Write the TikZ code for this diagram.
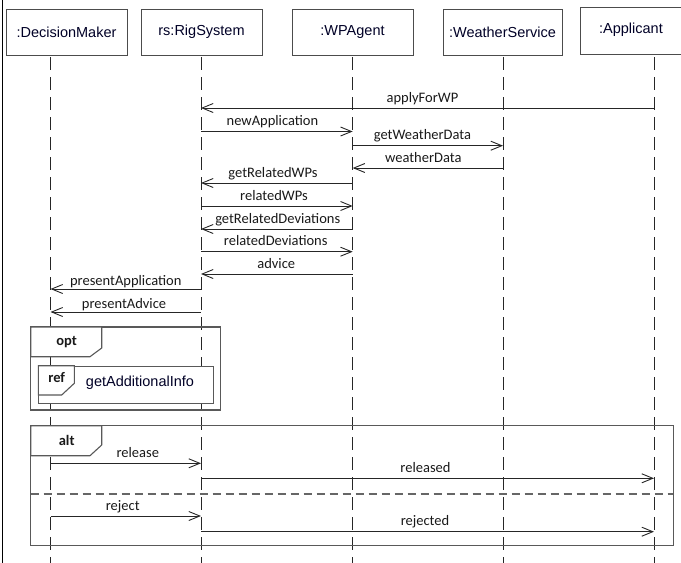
\documentclass[tikz,border=0pt]{standalone}
\usepackage{fontspec}
\setmainfont{Liberation Sans}
\newfontfamily\calibrifont{Carlito}
\usetikzlibrary{arrows.meta}

\begin{document}
\begin{tikzpicture}[x=1pt,y=-1pt,
  headbox/.style={draw=black!70, line width=1pt, minimum height=46pt, inner sep=0pt,
    font=\fontsize{14.5}{16}\selectfont, text=black!85!blue},
  headtext/.style={inner sep=0pt, font=\fontsize{14.5}{16}\selectfont, text=black!85!blue},
  lifeline/.style={draw=black!85, line width=0.9pt, dash pattern=on 13pt off 7pt},
  msg/.style={draw=black!85, line width=0.9pt,
    -{Straight Barb[length=11pt,width=9pt,line width=0.9pt]}},
  lbl/.style={font=\calibrifont\fontsize{14.5}{16}\selectfont, anchor=base, yshift=6pt,
    inner sep=0pt, text=black!90},
  fragment/.style={draw=black!65, line width=1.1pt},
  fragtab/.style={draw=black!65, line width=1.1pt, fill=white},
  fragname/.style={font=\calibrifont\bfseries\fontsize{14.5}{16}\selectfont, inner sep=0pt, text=black!90},
  separator/.style={draw=black!60, line width=1.2pt, dash pattern=on 8pt off 5pt}
]
\useasboundingbox (0,0) rectangle (681,563);

% page edge on the left
\draw[line width=1.5pt] (2.5,0) -- (2.5,563);

% participants
\node[headbox, minimum width=121pt] (dm) at (66.5,32) {:DecisionMaker};
\node[headbox, minimum width=121pt] (rs) at (201.5,32) {rs:RigSystem};
\node[headbox, minimum width=121pt] (wp) at (352.5,32) {:WPAgent};
\node[headbox, minimum width=119pt] (ws) at (502.5,32) {:WeatherService};
\node[headbox, minimum width=121pt, minimum height=47pt] (ap) at (640.5,30.5) {};
\node[headtext] (aptext) at (631,30) {:Applicant};

% lifeline tops and bottoms
\coordinate (dmL) at (50.5,57);  \coordinate (dmE) at (50.5,563);
\coordinate (rsL) at (201,57);   \coordinate (rsE) at (201,563);
\coordinate (wpL) at (352.7,57); \coordinate (wpE) at (352.7,563);
\coordinate (wsL) at (503,57);   \coordinate (wsE) at (503,563);
\coordinate (apL) at (654,57);   \coordinate (apE) at (654,563);

\foreach \p in {dm,rs,wp,ws,ap}
  \draw[lifeline] (\p L) -- (\p E);

% message rows
\coordinate (t1) at (0,108);
\coordinate (t2) at (0,131.5);
\coordinate (t3) at (0,145.7);
\coordinate (t4) at (0,168);
\coordinate (t5) at (0,183);
\coordinate (t6) at (0,206);
\coordinate (t7) at (0,229);
\coordinate (t8) at (0,251.7);
\coordinate (t9) at (0,274);
\coordinate (t10) at (0,289);
\coordinate (t11) at (0,312);
\coordinate (t12) at (0,463.3);
\coordinate (t13) at (0,478.3);
\coordinate (t14) at (0,516);
\coordinate (t15) at (0,531.7);

\draw[msg] (apL |- t1) -- node[lbl, xshift=-5pt] {applyForWP} (rsL |- t1);
\draw[msg] (rsL |- t2) -- node[lbl, xshift=-4.4pt] {newApplication} (wpL |- t2);
\draw[msg] (wpL |- t3) -- node[lbl, xshift=-5.4pt] {getWeatherData} (wsL |- t3);
\draw[msg] (wsL |- t4) -- node[lbl, xshift=-4.6pt] {weatherData} (wpL |- t4);
\draw[msg] (wpL |- t5) -- node[lbl, xshift=-3.9pt] {getRelatedWPs} (rsL |- t5);
\draw[msg] (rsL |- t6) -- node[lbl, xshift=-2.9pt] {relatedWPs} (wpL |- t6);
\draw[msg] (wpL |- t7) -- node[lbl, xshift=0.9pt] {getRelatedDeviations} (rsL |- t7);
\draw[msg] (rsL |- t8) -- node[lbl, xshift=-1.1pt] {relatedDeviations} (wpL |- t8);
\draw[msg] (wpL |- t9) -- node[lbl, xshift=-0.6pt] {advice} (rsL |- t9);
\draw[msg] (rsL |- t10) -- node[lbl, yshift=-2pt] {presentApplication} (dmL |- t10);
\draw[msg] (rsL |- t11) -- node[lbl, xshift=-1.7pt, yshift=-2pt] {presentAdvice} (dmL |- t11);

% opt fragment with the referenced interaction
\draw[fragment] (30.7,327) rectangle (220.7,410);
\draw[fragtab] (30.7,327) -- (101.7,327) -- (101.7,348) -- (90,356.7) -- (30.7,356.7) -- cycle;
\node[fragname] (optname) at (66.7,342) {opt};
\node[fragment, fill=white, minimum width=175pt, minimum height=37.6pt, inner sep=0pt,
  anchor=north west] (ref) at (38.3,365.7) {};
\draw[fragtab] (ref.north west) -- (74.3,365.7) -- (74.3,383.3) -- (61.7,395) -- (38.3,395) -- cycle;
\node[fragname] (refname) at (56.7,377.5) {ref};
\node[headtext, text=black!85!blue] (refbody) at (140,383) {getAdditionalInfo};

% alt fragment
\draw[fragment] (30.7,425.7) rectangle (673.3,545.7);
\draw[fragtab] (30.7,425.7) -- (101.7,425.7) -- (101.7,445) -- (90,455.7) -- (30.7,455.7) -- cycle;
\node[fragname] (altname) at (66.7,440) {alt};
\draw[separator] (30.7,494) -- (673.3,494);

\draw[msg] (dmL |- t12) -- node[lbl, xshift=12pt] {release} (rsL |- t12);
\draw[msg] (rsL |- t13) -- node[lbl, xshift=-2pt] {released} (apL |- t13);
\draw[msg] (dmL |- t14) -- node[lbl, xshift=-3pt] {reject} (rsL |- t14);
\draw[msg] (rsL |- t15) -- node[lbl, xshift=-2.5pt] {rejected} (apL |- t15);
\end{tikzpicture}
\end{document}
